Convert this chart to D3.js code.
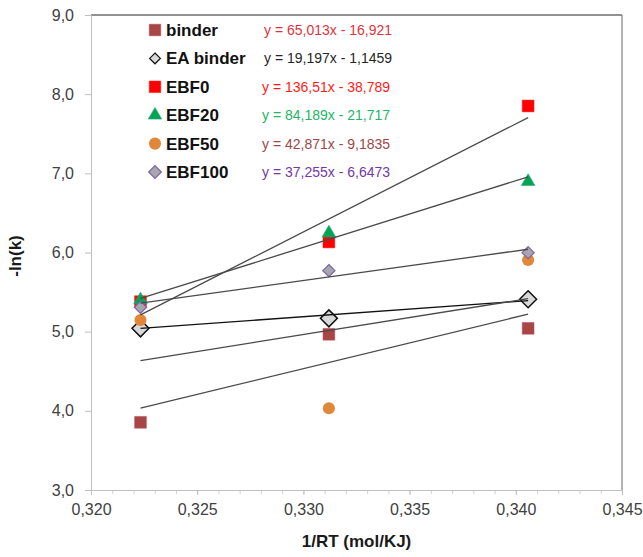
<!DOCTYPE html>
<html>
<head>
<meta charset="utf-8">
<script src="https://cdn.jsdelivr.net/npm/d3@7"></script>
<style>
  body { margin: 0; background: #fff; }
  text { font-family: "Liberation Sans Narrow", "Arial Narrow", "Liberation Sans", sans-serif; }
</style>
</head>
<body>
<script>
// x = 1/RT for 100, 90, 80 C
var xVals = [0.32233, 0.33120, 0.34058];

var names = ["binder", "EA binder", "EBF0", "EBF20", "EBF50", "EBF100"];
var binder = [3.855, 4.967, 5.042];
var eaBinder = [5.042, 5.168, 5.409];
var ebf0 = [5.379, 6.133, 7.851];
var ebf20 = [5.40, 6.246, 6.895];
var ebf50 = [5.148, 4.032, 5.905];
var ebf100 = [5.308, 5.771, 5.998];
var values = [binder, eaBinder, ebf0, ebf20, ebf50, ebf100];

// trendline equations from the chart
var slopes = [65.013, 19.197, 136.51, 84.189, 42.871, 37.255];
var intercepts = [-16.921, -1.1459, -38.789, -21.717, -9.1835, -6.6473];
var eqLabels = ["y = 65,013x - 16,921", "y = 19,197x - 1,1459", "y = 136,51x - 38,789",
                "y = 84,189x - 21,717", "y = 42,871x - 9,1835", "y = 37,255x - 6,6473"];

var xTicks = [0.320, 0.325, 0.330, 0.335, 0.340, 0.345];
var yTicks = [3, 4, 5, 6, 7, 8, 9];

// square turned 45 degrees (Excel diamond)
var diamond = {
    draw: function(context, size) {
        var h = Math.sqrt(size / 2);
        context.moveTo(0, -h);
        context.lineTo(h, 0);
        context.lineTo(0, h);
        context.lineTo(-h, 0);
        context.closePath();
    }
};

var fills = ["#a84547", "#d9d9d9", "#ff0000", "#00a651", "#e0873a", "#a6a6ad"];
var strokes = ["#b85a5c", "#111111", "#ff2020", "#2a9d8f", "#e0873a", "#7f62a8"];
var eqColors = ["#e0323e", "#262626", "#ff1a1a", "#22b565", "#9c4848", "#7338a8"];
var shapes = [d3.symbolSquare, diamond, d3.symbolSquare, d3.symbolTriangle, d3.symbolCircle, diamond];
var sizes = [140, 144, 140, 80, 115, 74];
var legSizes = [135, 58, 135, 78, 115, 80];
var strokeW = [0.5, 1.5, 0.5, 0.6, 0, 1.2];

var width = 643, height = 557;
var pLeft = 91, pRight = 622, pTop = 15, pBottom = 490;

var svg = d3.select("body").append("svg")
    .attr("width", width)
    .attr("height", height);

var x = d3.scaleLinear().domain([0.320, 0.345]).range([pLeft, pRight]);
var y = d3.scaleLinear().domain([3, 9]).range([pBottom, pTop]);

// plot area border (top + right)
svg.append("line").attr("x1", pLeft).attr("x2", pRight).attr("y1", pTop).attr("y2", pTop)
    .attr("stroke", "#262626").attr("stroke-width", 1.2);
svg.append("line").attr("x1", pRight).attr("x2", pRight).attr("y1", pTop).attr("y2", pBottom)
    .attr("stroke", "#808080").attr("stroke-width", 1.2);

// y axis
var yAxis = svg.append("g").attr("transform", "translate(" + pLeft + ",0)")
    .call(d3.axisLeft(y).tickValues(yTicks).tickSize(6).tickPadding(11)
        .tickFormat(function(d) { return d3.format(".1f")(d).replace(".", ","); }));
yAxis.select(".domain").attr("stroke", "#bfbfbf");
yAxis.selectAll(".tick line").attr("stroke", "#bfbfbf");
yAxis.selectAll("text").attr("fill", "#404040").style("font-size", "16px")
    .style("font-family", "'Liberation Sans Narrow', 'Arial Narrow', sans-serif");

// x axis, minor ticks
var xAxisMinor = svg.append("g").attr("transform", "translate(0," + pBottom + ")")
    .call(d3.axisBottom(x).ticks(25).tickSize(4).tickFormat(""));
xAxisMinor.select(".domain").remove();
xAxisMinor.selectAll(".tick line").attr("stroke", "#d0d0d0");

var xAxis = svg.append("g").attr("transform", "translate(0," + pBottom + ")")
    .call(d3.axisBottom(x).tickValues(xTicks).tickSize(5).tickPadding(9)
        .tickFormat(function(d) { return d3.format(".3f")(d).replace(".", ","); }));
xAxis.select(".domain").attr("stroke", "#bfbfbf");
xAxis.selectAll(".tick line").attr("stroke", "#bfbfbf");
xAxis.selectAll("text").attr("fill", "#404040").style("font-size", "16px")
    .style("font-family", "'Liberation Sans Narrow', 'Arial Narrow', sans-serif");

// axis titles
svg.append("text")
    .attr("x", (pLeft + pRight) / 2)
    .attr("y", 547)
    .attr("text-anchor", "middle")
    .style("font-size", "17px")
    .style("font-weight", "bold")
    .attr("fill", "#1a1a1a")
    .text("1/RT (mol/KJ)");

svg.append("text")
    .attr("transform", "translate(21,256) rotate(-90)")
    .attr("text-anchor", "middle")
    .style("font-size", "17px")
    .style("font-weight", "bold")
    .attr("fill", "#1a1a1a")
    .text("-ln(k)");

// markers
names.forEach(function(name, i) {
    svg.append("g").selectAll("path")
        .data(values[i])
        .enter().append("path")
        .attr("d", d3.symbol().type(shapes[i]).size(sizes[i])())
        .attr("transform", function(d, j) {
            return "translate(" + x(xVals[j]) + "," + y(d) + ")";
        })
        .attr("fill", fills[i])
        .attr("stroke", strokes[i])
        .attr("stroke-width", strokeW[i]);
});

// trendlines
var x0 = xVals[0], x1 = xVals[xVals.length - 1];
slopes.forEach(function(m, i) {
    svg.append("line")
        .attr("x1", x(x0)).attr("y1", y(m * x0 + intercepts[i]))
        .attr("x2", x(x1)).attr("y2", y(m * x1 + intercepts[i]))
        .attr("stroke", i === 1 ? "#111" : "#4a4a4a")
        .attr("stroke-width", 1.3);
});

// legend
var legY0 = 30, legStep = 28.4;
names.forEach(function(name, i) {
    var ly = legY0 + i * legStep;
    svg.append("path")
        .attr("d", d3.symbol().type(shapes[i]).size(legSizes[i])())
        .attr("transform", "translate(155," + ly + ")")
        .attr("fill", fills[i])
        .attr("stroke", strokes[i])
        .attr("stroke-width", i === 1 ? 1.2 : strokeW[i]);
    svg.append("text")
        .attr("x", 166)
        .attr("y", ly + 6)
        .style("font-size", "17px")
        .style("font-weight", "bold")
        .attr("fill", "#111")
        .text(name);
    svg.append("text")
        .attr("x", i < 2 ? 264 : 262)
        .attr("y", ly + 5)
        .style("font-size", "14px")
        .attr("fill", eqColors[i])
        .text(eqLabels[i]);
});
</script>
</body>
</html>
